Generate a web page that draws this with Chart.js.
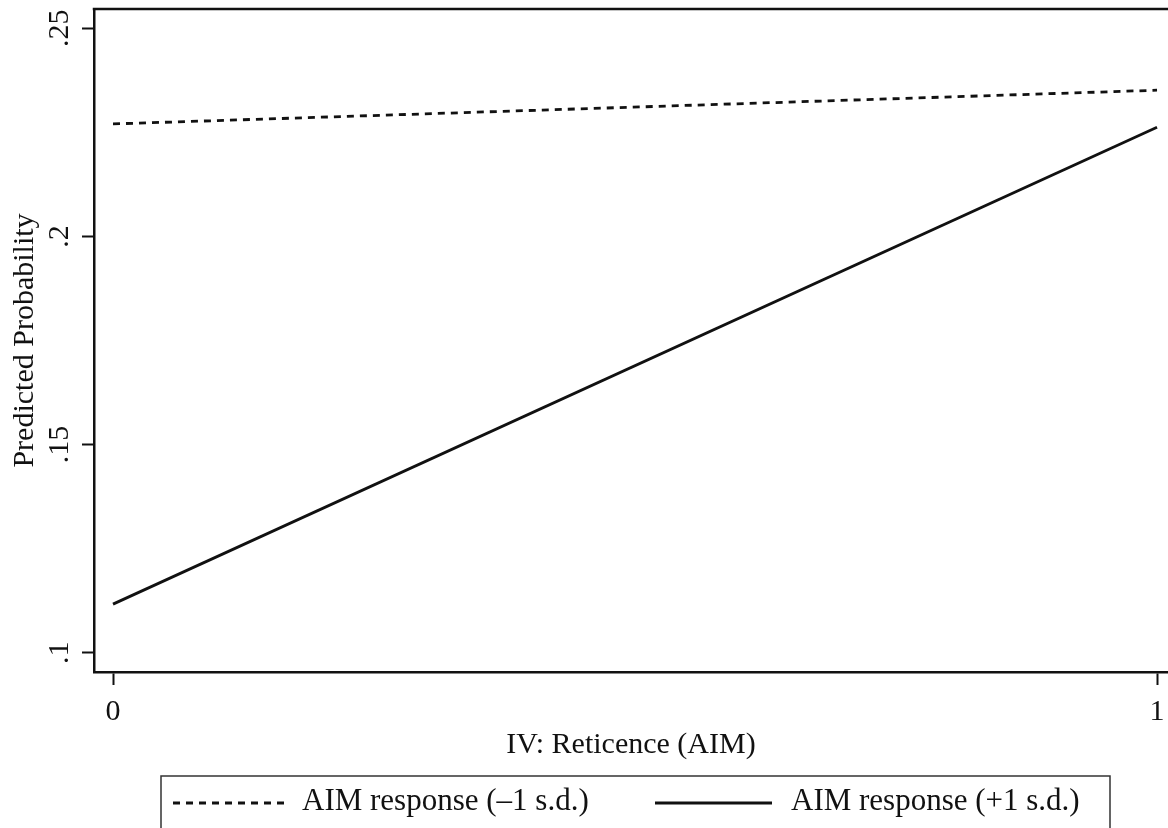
<!DOCTYPE html>
<html>
<head>
<meta charset="utf-8">
<script src="https://cdn.jsdelivr.net/npm/chart.js@4.4.0/dist/chart.umd.min.js"></script>
<style>
  html, body { margin: 0; padding: 0; background: #fff; overflow: hidden; }
  #wrap { width: 1168px; height: 828px; position: relative; }
</style>
</head>
<body>
<div id="wrap"><canvas id="chart"></canvas></div>
<script>
// x positions: IV Reticence (AIM)
const xValues = [0, 1];
// predicted probabilities
const lowResponse = [0.227, 0.2351];    // AIM response (-1 s.d.)
const highResponse = [0.1117, 0.2262];  // AIM response (+1 s.d.)
const seriesLabels = ['AIM response (\u20131 s.d.)', 'AIM response (+1 s.d.)'];
const yTicks = [0.1, 0.15, 0.2, 0.25];
const xTicks = [0, 1];

const FONT = "'Liberation Serif', 'Times New Roman', serif";
const INK = '#111';

const toPoints = (vals) => vals.map((v, i) => ({ x: xValues[i], y: v }));

// top edge of the plot frame (no right edge in the original)
const topFrame = {
    id: 'topFrame',
    afterDraw(chart) {
        const { ctx, chartArea } = chart;
        ctx.save();
        ctx.strokeStyle = INK;
        ctx.lineWidth = 2.5;
        ctx.beginPath();
        ctx.moveTo(chartArea.left - 1.25, chartArea.top);
        ctx.lineTo(chartArea.right, chartArea.top);
        ctx.stroke();
        ctx.restore();
    }
};

// boxed legend under the axis title, running off the bottom of the page
const boxLegend = {
    id: 'boxLegend',
    afterDraw(chart) {
        const ctx = chart.ctx;
        const box = { left: 161, right: 1110, top: 776 };
        const rowY = 802;
        const sampleX = [173, 655];
        const sampleLen = [114, 117];
        const textX = [302, 791];

        ctx.save();
        ctx.strokeStyle = '#333';
        ctx.lineWidth = 1.5;
        ctx.beginPath();
        ctx.moveTo(box.left, chart.height + 2);
        ctx.lineTo(box.left, box.top);
        ctx.lineTo(box.right, box.top);
        ctx.lineTo(box.right, chart.height + 2);
        ctx.stroke();

        chart.data.datasets.forEach((ds, i) => {
            ctx.strokeStyle = ds.borderColor;
            ctx.lineWidth = ds.borderWidth;
            ctx.setLineDash(ds.borderDash || []);
            ctx.beginPath();
            ctx.moveTo(sampleX[i], rowY + 1);
            ctx.lineTo(sampleX[i] + sampleLen[i], rowY + 1);
            ctx.stroke();
            ctx.setLineDash([]);

            ctx.fillStyle = INK;
            ctx.font = `31px ${FONT}`;
            ctx.textBaseline = 'middle';
            ctx.textAlign = 'left';
            ctx.fillText(ds.label, textX[i], rowY);
        });
        ctx.restore();
    }
};

new Chart(document.getElementById('chart'), {
    type: 'line',
    data: {
        datasets: [
            {
                label: seriesLabels[0],
                data: toPoints(lowResponse),
                borderColor: INK,
                borderWidth: 2.8,
                borderDash: [7, 6],
                pointRadius: 0,
                fill: false
            },
            {
                label: seriesLabels[1],
                data: toPoints(highResponse),
                borderColor: INK,
                borderWidth: 2.8,
                pointRadius: 0,
                fill: false
            }
        ]
    },
    options: {
        responsive: true,
        maintainAspectRatio: false,
        animation: false,
        layout: { padding: { left: 0, top: 9, right: 0, bottom: 65 } },
        plugins: {
            legend: { display: false },
            tooltip: { enabled: false }
        },
        scales: {
            x: {
                type: 'linear',
                min: -0.0182,
                max: 1.0105,
                afterBuildTicks: (scale) => { scale.ticks = xTicks.map(v => ({ value: v })); },
                afterFit: (scale) => {
                    scale.height = 91;
                    scale.paddingLeft = 0;
                    scale.paddingRight = 0;
                },
                grid: { drawOnChartArea: false, drawTicks: true, tickLength: 13, tickColor: INK, tickWidth: 2 },
                border: { display: true, color: INK, width: 2.5 },
                ticks: {
                    color: INK,
                    padding: 9,
                    maxRotation: 0,
                    font: { family: FONT, size: 30 },
                    callback: (v) => String(v)
                },
                title: {
                    display: true,
                    text: 'IV: Reticence (AIM)',
                    color: INK,
                    font: { family: FONT, size: 30, lineHeight: 1.2 },
                    padding: { top: 0, bottom: 0 }
                }
            },
            y: {
                type: 'linear',
                min: 0.0954,
                max: 0.2546,
                afterBuildTicks: (scale) => { scale.ticks = yTicks.map(v => ({ value: v })); },
                afterFit: (scale) => {
                    scale.width = 94;
                    scale.paddingTop = 0;
                    scale.paddingBottom = 0;
                },
                grid: { drawOnChartArea: false, drawTicks: true, tickLength: 12, tickColor: INK, tickWidth: 2 },
                border: { display: true, color: INK, width: 2.5 },
                ticks: {
                    color: INK,
                    padding: 3,
                    minRotation: 90,
                    maxRotation: 90,
                    crossAlign: 'center',
                    font: { family: FONT, size: 30 },
                    callback: (v) => String(v).replace(/^0\./, '.')
                },
                title: {
                    display: true,
                    text: 'Predicted Probability',
                    color: INK,
                    font: { family: FONT, size: 30, lineHeight: 1.2 },
                    padding: { top: 7, bottom: 0 }
                }
            }
        }
    },
    plugins: [topFrame, boxLegend]
});
</script>
</body>
</html>
